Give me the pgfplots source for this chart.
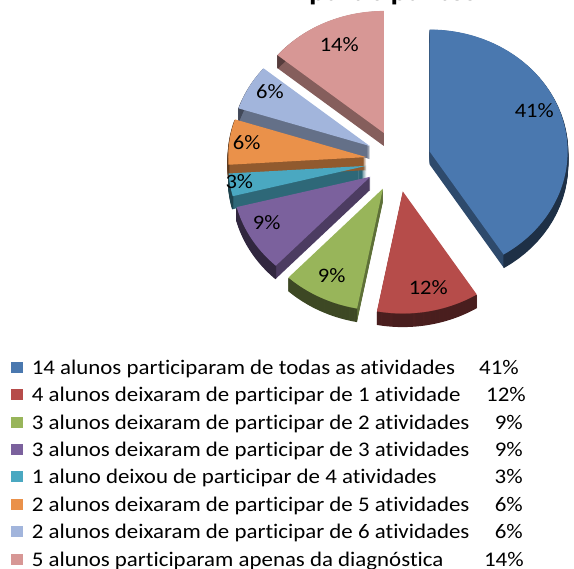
\documentclass[border=0pt]{standalone}
\usepackage{fontspec}
\setmainfont{Carlito}[FakeStretch=1.1, Ligatures=NoCommon]
\usepackage{pgfplots}
\usepackage{pgfplotstable}
\pgfplotsset{compat=1.18}

\definecolor{c0}{HTML}{4A78AF}
\definecolor{c1}{HTML}{B64C4A}
\definecolor{c2}{HTML}{98B55A}
\definecolor{c3}{HTML}{7B619D}
\definecolor{c4}{HTML}{4AA8C1}
\definecolor{c5}{HTML}{EA914A}
\definecolor{c6}{HTML}{A2B5DC}
\definecolor{c7}{HTML}{D79795}

% share (%) and explosion distance of each slice, clockwise from 12 o'clock
\pgfplotstableread{
val expl
41 34
12 31
9 31
9 31
3 31
6 31
6 31
14 31
}\piedata

\newcommand\leg[3]{\makebox[\dimexpr#3pt-32pt\relax][l]{#1}\llap{#2}}
\newcommand\lbl{\fontsize{20.5}{22}\selectfont}
\def\PCX{397}\def\PCY{408}\def\RX{138}\def\RY{122}

\begin{document}
\begin{tikzpicture}
\begin{axis}[
  width=574pt, height=569pt, scale only axis,
  xmin=0, xmax=574, ymin=0, ymax=569,
  hide axis, clip=false,
  legend image code/.code={\fill[#1] (0pt,1.5pt) rectangle (11.5pt,12.5pt);},
  legend style={draw=none, fill=none, inner sep=0pt, outer sep=0pt,
    at={(rel axis cs:0.01916,0.36503)}, anchor=north west,
    font=\fontsize{20.8}{22}\selectfont,
    row sep=11.9pt, column sep=0pt,
    nodes={inner sep=0pt, text height=13pt, text depth=2.5pt, anchor=base west},
    /tikz/every odd column/.style={column sep=9.3pt}},
  legend entries={
    {\leg{14 alunos participaram de todas as atividades}{41\%}{519}},
    {\leg{4 alunos deixaram de participar de 1 atividade}{12\%}{526}},
    {\leg{3 alunos deixaram de participar de 2 atividades}{9\%}{523}},
    {\leg{3 alunos deixaram de participar de 3 atividades}{9\%}{523}},
    {\leg{1 aluno deixou de participar de 4 atividades}{3\%}{523}},
    {\leg{2 alunos deixaram de participar de 5 atividades}{6\%}{523}},
    {\leg{2 alunos deixaram de participar de 6 atividades}{6\%}{523}},
    {\leg{5 alunos participaram apenas da diagnóstica}{14\%}{524}}},
]
% ---- sides (extrusion) ----
\def\cum{0}
\pgfplotsforeachungrouped \i in {0,...,7}{%
  \pgfplotstablegetelem{\i}{val}\of\piedata \let\v\pgfplotsretval
  \pgfplotstablegetelem{\i}{expl}\of\piedata \let\e\pgfplotsretval
  \pgfmathsetmacro\ts{90-3.6*\cum}%
  \pgfmathsetmacro\te{90-3.6*(\cum+\v)}%
  \pgfmathsetmacro\m{(\ts+\te)/2}%
  \pgfmathsetmacro\cx{\PCX+\e*cos(\m)}%
  \pgfmathsetmacro\cy{\PCY+\e*sin(\m)}%
  \pgfmathsetmacro\cum{\cum+\v}%
  \pgfplotsforeachungrouped \k in {1,...,13}{%
    \pgfmathsetmacro\yy{\cy-\k}%
    \edef\temp{\noexpand\addplot[forget plot, draw=none, fill=c\i!62!black,
      domain=\te:\ts, samples=40]
      ({\cx+\RX*cos(x)},{\yy+\RY*sin(x)}) -- (\cx,\yy) -- cycle;}%
    \temp
  }%
  \pgfplotsforeachungrouped \k in {1,...,13}{%
    \pgfmathsetmacro\yy{\cy-\k}%
    \edef\temp{\noexpand\addplot[forget plot, draw=c\i!40!black, line width=1.3pt,
      domain=\te:\ts, samples=40]
      ({\cx+\RX*cos(x)},{\yy+\RY*sin(x)});}%
    \temp
  }%
}
% ---- top faces ----
\def\cum{0}
\pgfplotsforeachungrouped \i in {0,...,7}{%
  \pgfplotstablegetelem{\i}{val}\of\piedata \let\v\pgfplotsretval
  \pgfplotstablegetelem{\i}{expl}\of\piedata \let\e\pgfplotsretval
  \pgfmathsetmacro\ts{90-3.6*\cum}%
  \pgfmathsetmacro\te{90-3.6*(\cum+\v)}%
  \pgfmathsetmacro\m{(\ts+\te)/2}%
  \pgfmathsetmacro\cx{\PCX+\e*cos(\m)}%
  \pgfmathsetmacro\cy{\PCY+\e*sin(\m)}%
  \pgfmathsetmacro\cum{\cum+\v}%
  \edef\temp{\noexpand\addplot[draw=none, fill=c\i,
    domain=\te:\ts, samples=60]
    ({\cx+\RX*cos(x)},{\cy+\RY*sin(x)}) -- (\cx,\cy) -- cycle;}%
  \temp
}
\node[font=\lbl] at (axis cs:534.3,458) {41\%};
\node[font=\lbl] at (axis cs:428.3,281.7) {12\%};
\node[font=\lbl] at (axis cs:331.7,293) {9\%};
\node[font=\lbl] at (axis cs:266.7,346.3) {9\%};
\node[font=\lbl] at (axis cs:239.3,387.3) {3\%};
\node[font=\lbl] at (axis cs:246.7,426.3) {6\%};
\node[font=\lbl] at (axis cs:270,477.3) {6\%};
\node[font=\lbl] at (axis cs:339.3,524.7) {14\%};
\begin{scope}
\clip (axis cs:0,0) rectangle (axis cs:574,569);
\node[overlay, anchor=base west, inner sep=0pt, font=\bfseries\fontsize{28}{30}\selectfont]
  at (axis cs:309,568.5) {participantes};
\end{scope}
\end{axis}
\end{tikzpicture}
\end{document}
